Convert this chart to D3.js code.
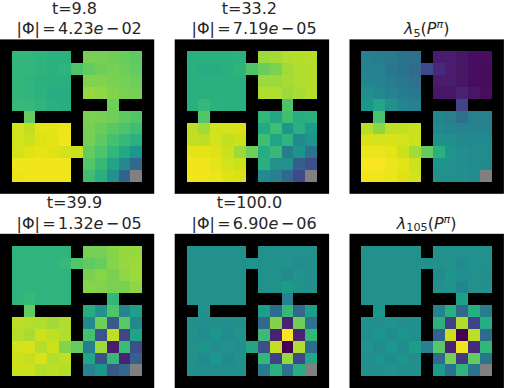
<!DOCTYPE html>
<html>
<head>
<meta charset="utf-8">
<script src="https://cdn.jsdelivr.net/npm/d3@7"></script>
<style>
  html, body { margin: 0; padding: 0; background: #fff; overflow: hidden; }
  text { font-family: "DejaVu Sans", sans-serif; fill: #262626; }
</style>
</head>
<body>
<svg width="506" height="388"></svg>
<script>
// _ = wall, G = goal cell (grey), everything else is the value on the viridis scale
const _ = null, G = "goal";

const gridT98 = [
  [.66,.66,.65,.64,.64,_,.79,.79,.78,.77,.75],
  [.66,.66,.65,.64,.65,.72,.76,.78,.79,.78,.76],
  [.66,.65,.64,.63,.63,_,.81,.81,.80,.79,.78],
  [.66,.65,.64,.62,.62,_,.84,.83,.81,.80,.79],
  [.67,.67,.65,.63,.62,_,_,_,.78,_,_],
  [_,.76,_,_,_,_,.80,.79,.78,.75,.73],
  [.93,.91,.96,.96,.97,_,.79,.77,.74,.72,.69],
  [.93,.92,.95,.96,.98,_,.79,.75,.70,.67,.64],
  [.93,.95,.96,.95,.93,.92,.76,.72,.66,.60,.53],
  [.98,.98,.98,.98,.98,_,.73,.67,.58,.47,.33],
  [.97,.98,.98,.98,.98,_,.69,.63,.50,.32,G]
];
const gridT332 = [
  [.63,.63,.63,.63,.64,_,.85,.86,.88,.89,.89],
  [.63,.62,.62,.63,.65,.72,.77,.80,.86,.88,.89],
  [.63,.63,.63,.63,.63,_,.85,.85,.87,.88,.89],
  [.63,.63,.63,.63,.63,_,.88,.88,.85,.87,.89],
  [.63,.67,.64,.63,.63,_,_,_,.72,_,_],
  [_,.73,_,_,_,_,.66,.59,.69,.62,.63],
  [.90,.86,.93,.93,.94,_,.60,.69,.53,.63,.55],
  [.91,.90,.93,.91,.92,_,.69,.58,.65,.47,.52],
  [.96,.96,.95,.92,.85,.78,.62,.67,.42,.52,.38],
  [.98,.98,.96,.93,.92,_,.63,.50,.50,.30,.24],
  [.98,.98,.97,.95,.94,_,.48,.43,.33,.23,G]
];
const gridLambda5 = [
  [.43,.42,.41,.38,.36,_,.08,.08,.05,.04,.03],
  [.44,.43,.40,.38,.34,.22,.12,.08,.05,.03,.02],
  [.46,.44,.42,.40,.36,_,.07,.07,.05,.03,.02],
  [.49,.47,.44,.42,.40,_,.05,.05,.10,.05,.03],
  [.52,.59,.50,.45,.43,_,_,_,.20,_,_],
  [_,.71,_,_,_,_,.46,.43,.36,.43,.43],
  [.89,.83,.90,.91,.92,_,.47,.46,.44,.44,.44],
  [.94,.93,.94,.93,.92,_,.50,.49,.47,.47,.47],
  [.97,.97,.96,.92,.86,.76,.63,.53,.49,.48,.48],
  [.99,.99,.97,.96,.92,_,.52,.51,.49,.48,.47],
  [.98,.98,.97,.95,.93,_,.50,.50,.50,.48,G]
];
const gridT399 = [
  [.65,.65,.65,.65,.65,_,.79,.79,.82,.84,.84],
  [.65,.65,.65,.65,.67,.73,.75,.77,.82,.84,.85],
  [.65,.65,.65,.65,.65,_,.80,.82,.80,.83,.85],
  [.65,.65,.65,.65,.65,_,.82,.81,.80,.80,.83],
  [.65,.67,.65,.65,.65,_,_,_,.66,_,_],
  [_,.76,_,_,_,_,.62,.50,.72,.45,.57],
  [.90,.89,.88,.86,.88,_,.47,.78,.28,.74,.47],
  [.89,.87,.92,.90,.88,_,.70,.26,.90,.20,.58],
  [.93,.94,.89,.92,.81,.76,.42,.85,.08,.68,.24],
  [.92,.91,.94,.88,.90,_,.59,.25,.67,.10,.31],
  [.92,.92,.89,.90,.89,_,.45,.52,.27,.33,G]
];
const gridT100 = [
  [.50,.50,.50,.50,.50,_,.50,.50,.50,.50,.50],
  [.50,.50,.50,.50,.50,.51,.50,.50,.51,.49,.50],
  [.50,.50,.50,.50,.50,_,.50,.50,.48,.51,.49],
  [.50,.50,.50,.50,.50,_,.50,.50,.54,.50,.50],
  [.50,.50,.50,.50,.50,_,_,_,.44,_,_],
  [_,.50,_,_,_,_,.56,.35,.67,.33,.56],
  [.50,.49,.50,.49,.50,_,.33,.81,.09,.78,.37],
  [.50,.48,.52,.48,.51,_,.68,.10,.99,.09,.66],
  [.50,.52,.49,.51,.49,.58,.24,.91,.01,.88,.35],
  [.50,.48,.53,.48,.50,_,.66,.19,.84,.22,.60],
  [.50,.49,.49,.49,.50,_,.41,.64,.36,.62,G]
];
const gridLambda105 = [
  [.50,.50,.50,.50,.50,_,.50,.50,.50,.50,.50],
  [.50,.50,.50,.50,.50,.50,.50,.51,.48,.51,.50],
  [.50,.50,.50,.50,.50,_,.48,.52,.49,.50,.49],
  [.50,.50,.50,.50,.50,_,.50,.51,.46,.50,.50],
  [.50,.50,.50,.50,.50,_,_,_,.57,_,_],
  [_,.52,_,_,_,_,.44,.63,.33,.62,.42],
  [.50,.49,.51,.49,.50,_,.64,.19,.88,.20,.62],
  [.49,.52,.48,.52,.49,_,.32,.92,.01,.90,.35],
  [.51,.48,.53,.48,.55,.43,.74,.10,.98,.12,.66],
  [.49,.52,.48,.52,.49,_,.34,.79,.16,.76,.39],
  [.50,.49,.51,.49,.50,_,.54,.37,.65,.39,G]
];

const grids = [gridT98, gridT332, gridLambda5, gridT399, gridT100, gridLambda105];
const topLines = ["t=9.8", "t=33.2", null, "t=39.9", "t=100.0", null];
const phiLabels = ["4.23", "7.19", null, "1.32", "6.90", null];
const phiExponents = ["02", "05", null, "05", "06", null];
const lambdaSubs = [null, null, "5", null, null, "105"];

const panelLefts = [-0.2, 174.7, 349.5];
const panelTops = [39.4, 233.8];
const panelSize = 154.4;

const color = d3.scaleSequential(d3.interpolateViridis).domain([0, 1]);
const cells = d3.range(13);

const svg = d3.select("svg");

// the reference image is a little soft from being resampled
svg.append("defs").append("filter").attr("id", "soft")
  .append("feGaussianBlur").attr("stdDeviation", 0.35);

const drawTitle = (g, i) => {
  const cx = panelSize / 2;
  if (topLines[i]) {
    // the two title lines are not quite centred on each other in the reference
    g.append("text").attr("x", cx - 2.5).attr("y", -25.6).attr("text-anchor", "middle")
      .attr("font-size", 16).text(topLines[i]);
    const t = g.append("text").attr("x", cx + 2.2).attr("y", -5).attr("text-anchor", "middle")
      .attr("font-size", 16).attr("word-spacing", -2.8);
    t.append("tspan").text("|Φ| = " + phiLabels[i]);
    t.append("tspan").attr("font-style", "italic").text("e");
    t.append("tspan").text(" − " + phiExponents[i]);
  } else {
    const t = g.append("text").attr("x", cx).attr("y", -5).attr("text-anchor", "middle")
      .attr("font-size", 16);
    t.append("tspan").attr("font-style", "italic").text("λ");
    t.append("tspan").attr("font-size", 11.2).attr("dy", 2.5).text(lambdaSubs[i]);
    t.append("tspan").attr("dy", -2.5).text("(");
    t.append("tspan").attr("font-style", "italic").text("P");
    t.append("tspan").attr("font-style", "italic").attr("font-size", 11.2).attr("dy", -6).text("π");
    t.append("tspan").attr("dy", 6).text(")");
  }
};

grids.forEach((grid, i) => {
  const left = panelLefts[i % 3];
  const top = panelTops[Math.floor(i / 3)];
  const x = d3.scaleBand().domain(cells).range([0, panelSize]);
  const y = d3.scaleBand().domain(cells).range([0, panelSize]);

  const g = svg.append("g").attr("transform", `translate(${left},${top})`);
  // walls are just the black background of the axes
  const image = g.append("g").attr("filter", "url(#soft)");
  image.append("rect").attr("width", panelSize).attr("height", panelSize).attr("fill", "#000");

  const flat = grid.flatMap((row, r) => row.map((v, c) => ({ r: r + 1, c: c + 1, v })))
    .filter(d => d.v !== null);

  image.selectAll("rect.cell")
    .data(flat)
    .enter()
    .append("rect")
    .attr("class", "cell")
    .attr("x", d => x(d.c))
    .attr("y", d => y(d.r))
    .attr("width", x.bandwidth())
    .attr("height", y.bandwidth())
    .attr("shape-rendering", "crispEdges")
    .attr("fill", d => d.v === G ? "#808080" : color(d.v));

  drawTitle(g, i);
});
</script>
</body>
</html>
